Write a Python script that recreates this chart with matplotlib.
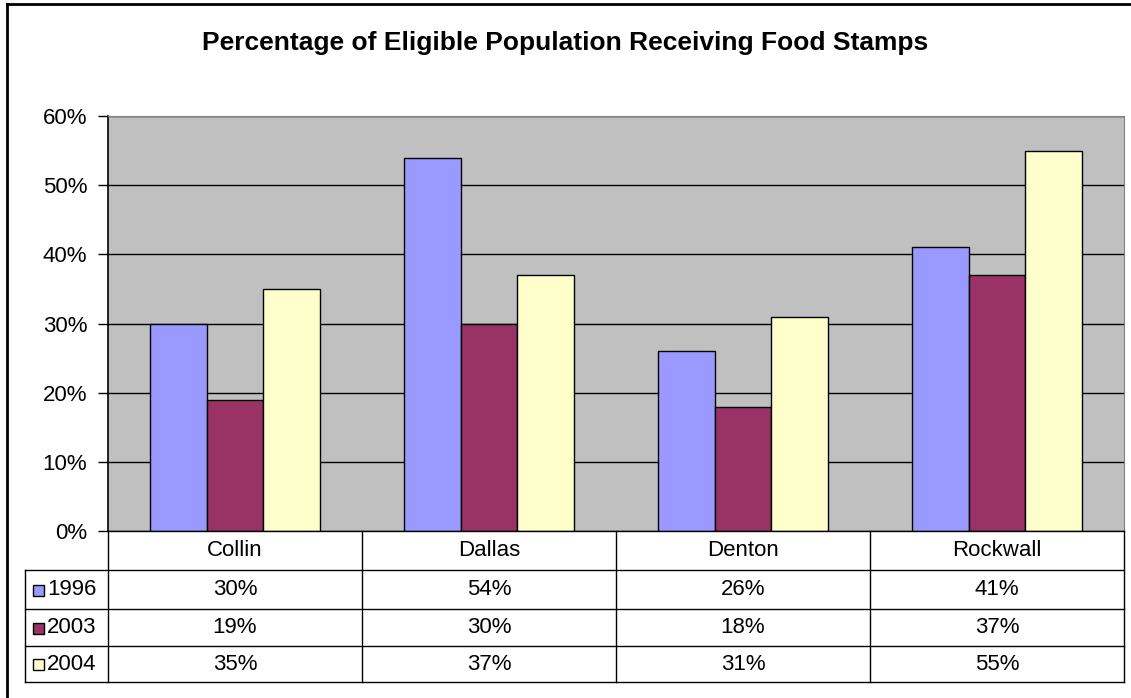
import matplotlib
matplotlib.use("Agg")
import matplotlib.pyplot as plt
from matplotlib.patches import Rectangle

# datos del grafico
condados = ["Collin", "Dallas", "Denton", "Rockwall"]
anios = ["1996", "2003", "2004"]
v1996 = [30, 54, 26, 41]
v2003 = [19, 30, 18, 37]
v2004 = [35, 37, 31, 55]
yticks = [0, 10, 20, 30, 40, 50, 60]

series = [v1996, v2003, v2004]
colores = ["#9999FF", "#993366", "#FFFFCC"]

W, H = 1131, 698
fig = plt.figure(figsize=(W / 100, H / 100), dpi=100)
plt.rcParams['font.family'] = ['Liberation Sans', 'DejaVu Sans']
fs = 16

# zona del grafico en pixeles
x0, x1 = 108, 1124
y_top, y_bot = 116, 531
filas = [570, 609, 646, 682]
x_tabla = 25

ax = fig.add_axes([x0 / W, 1 - y_bot / H, (x1 - x0) / W, (y_bot - y_top) / H])
ax.set_facecolor("#C0C0C0")
n = len(condados)
ancho = 0.222
for j, vals in enumerate(series):
    xs = [i + 0.5 + (j - 1) * ancho for i in range(n)]
    ax.bar(xs, vals, width=ancho, color=colores[j], edgecolor="black",
           linewidth=1, zorder=3)

ax.set_xlim(0, n)
ax.set_ylim(0, 60)
ax.set_yticks(yticks)
ax.set_yticklabels([f"{t}%" for t in yticks], fontsize=fs)
ax.set_xticks([])
ax.grid(axis="y", color="black", linewidth=1, zorder=1)
ax.tick_params(axis="y", length=7, width=1, pad=8)
ax.spines["top"].set_color("#808080")
ax.spines["right"].set_color("#808080")
ax.spines["bottom"].set_visible(False)
ax.spines["left"].set_linewidth(1.2)

fig.suptitle("Percentage of Eligible Population Receiving Food Stamps",
             fontsize=19, fontweight="bold", y=1 - 43 / H, va="center")

# tabla de datos debajo del grafico
tab = fig.add_axes([0, 0, 1, 1], facecolor="none")
tab.set_xlim(0, W)
tab.set_ylim(H, 0)
tab.axis("off")

paso = (x1 - x0) / n
cols = [x0 + i * paso for i in range(n + 1)]
lc = "black"
# lineas horizontales
tab.plot([x0, x1], [y_bot, y_bot], color=lc, lw=1)
for y in filas:
    tab.plot([x_tabla, x1], [y, y], color=lc, lw=1)
# lineas verticales
for c in cols:
    tab.plot([c, c], [y_bot, filas[-1]], color=lc, lw=1)
tab.plot([x_tabla, x_tabla], [filas[0], filas[-1]], color=lc, lw=1)

# encabezados
for i, nombre in enumerate(condados):
    tab.text(cols[i] + paso / 2, (y_bot + filas[0]) / 2, nombre,
             ha="center", va="center", fontsize=fs)

# valores y leyenda
for j, vals in enumerate(series):
    yc = (filas[j] + filas[j + 1]) / 2
    tab.add_patch(Rectangle((33, yc - 5), 11, 11, facecolor=colores[j],
                            edgecolor="black", lw=1))
    tab.text(47, yc, anios[j], ha="left", va="center", fontsize=fs)
    for i, v in enumerate(vals):
        tab.text(cols[i] + paso / 2, yc, f"{v}%", ha="center", va="center",
                 fontsize=fs)

# marco exterior
tab.plot([7, 7], [H + 5, 4], color="black", lw=2)
tab.plot([7, W + 5], [4, 4], color="black", lw=2)

fig.savefig("out.png", dpi=100)
